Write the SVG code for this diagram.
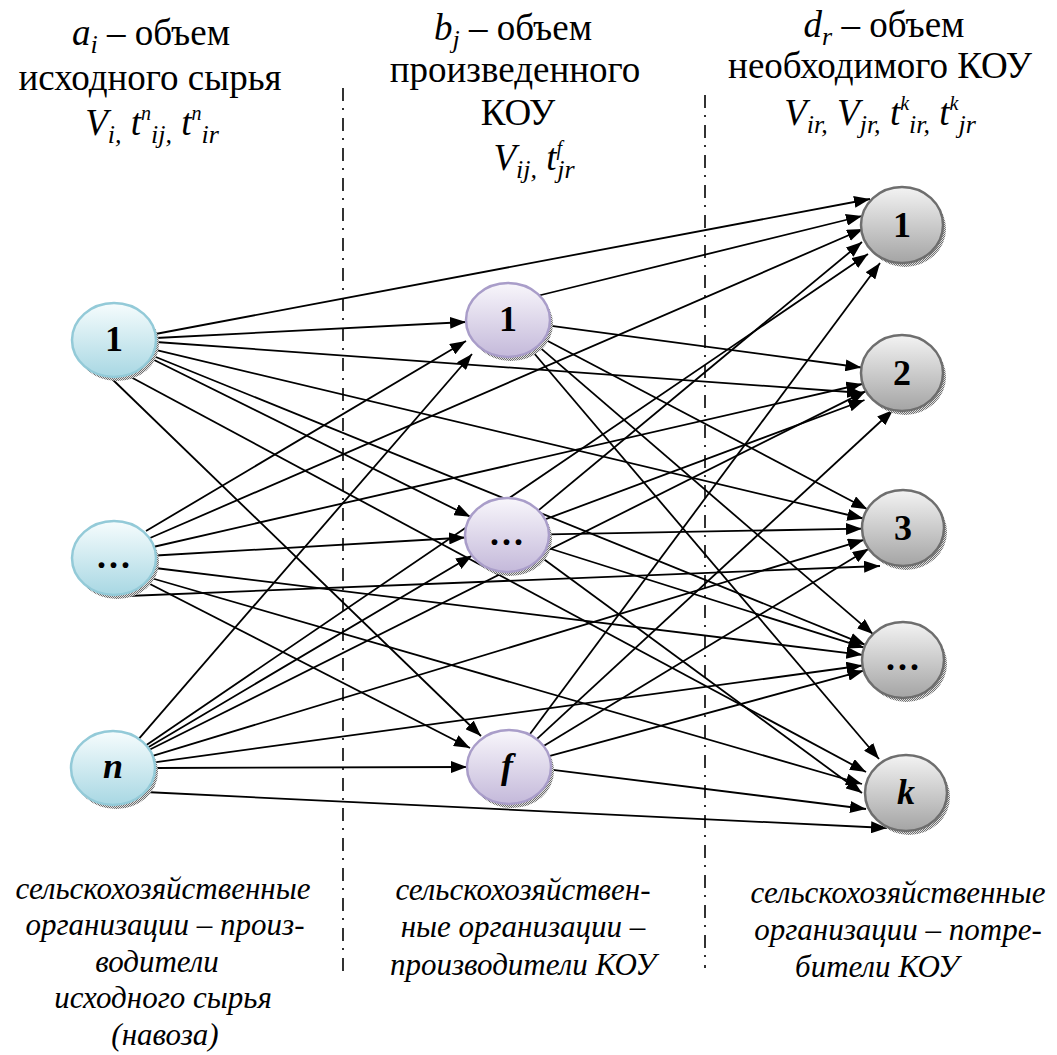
<svg xmlns="http://www.w3.org/2000/svg" width="1057" height="1055" viewBox="0 0 1057 1055">
<style>
.h{font-size:37px;fill:#000;text-anchor:middle}
.it{font-style:italic}
.sb{font-size:26px;font-style:italic}
.sp{font-size:20px;font-style:italic}
.b{font-size:31px;font-style:italic;fill:#000;text-anchor:middle}
.lab{font-size:36px;font-weight:bold;fill:#000;text-anchor:middle}
.dots{letter-spacing:3px}
.sep{stroke:#000;stroke-width:1.6;stroke-dasharray:13 7 2 8;fill:none}
.e line{stroke:#000;stroke-width:1.8;marker-end:url(#ah)}
.sh{fill:url(#dots)}
.nl{fill:url(#gl);stroke:#93cad8;stroke-width:2.5}
.nm{fill:url(#gm);stroke:#a99dc9;stroke-width:2.5}
.nr{fill:url(#gr);stroke:#6e6e6e;stroke-width:2.5}
</style>
<defs>
<marker id="ah" markerUnits="userSpaceOnUse" markerWidth="17" markerHeight="12" refX="16" refY="6" orient="auto">
<path d="M0,0 L16,6 L0,12 z" fill="#000"/>
</marker>
<pattern id="dots" width="2" height="2" patternUnits="userSpaceOnUse">
<rect width="2" height="2" fill="#e0e0e0"/>
<rect width="1" height="1" fill="#6f6f6f"/>
<rect x="1" y="1" width="1" height="1" fill="#6f6f6f"/>
</pattern>
<linearGradient id="gl" x1="0" y1="0" x2="0" y2="1">
<stop offset="0" stop-color="#f6fcfd"/><stop offset="1" stop-color="#a8d7e3"/>
</linearGradient>
<linearGradient id="gm" x1="0" y1="0" x2="0" y2="1">
<stop offset="0" stop-color="#f8f6fb"/><stop offset="1" stop-color="#c4b9da"/>
</linearGradient>
<linearGradient id="gr" x1="0" y1="0" x2="0" y2="1">
<stop offset="0" stop-color="#f3f3f3"/><stop offset="1" stop-color="#a4a4a4"/>
</linearGradient>
</defs>
<rect width="1057" height="1055" fill="#fff"/>

<g id="headers">
<text class="h" font-family="Liberation Serif" x="151" y="45"><tspan class="it">a</tspan><tspan class="sb" dy="8">i</tspan><tspan dy="-8"> – объем</tspan></text>
<text class="h" font-family="Liberation Serif" x="150" y="90">исходного сырья</text>
<text class="h" font-family="Liberation Serif" x="152" y="135"><tspan class="it">V</tspan><tspan class="sb" dy="8">i,</tspan><tspan class="it" dy="-8"> t</tspan><tspan class="sp" dy="-15">п</tspan><tspan class="sb" dy="23">ij,</tspan><tspan class="it" dy="-8"> t</tspan><tspan class="sp" dy="-15">п</tspan><tspan class="sb" dy="23">ir</tspan></text>
<text class="h" font-family="Liberation Serif" x="513" y="40"><tspan class="it">b</tspan><tspan class="sb" dy="8">j</tspan><tspan dy="-8"> – объем</tspan></text>
<text class="h" font-family="Liberation Serif" x="515" y="82">произведенного</text>
<text class="h" font-family="Liberation Serif" x="518" y="125">КОУ</text>
<text class="h" font-family="Liberation Serif" x="534" y="170"><tspan class="it">V</tspan><tspan class="sb" dy="8">ij,</tspan><tspan class="it" dy="-8"> t</tspan><tspan class="sp" dy="-15">f</tspan><tspan class="sb" dx="-5" dy="23">jr</tspan></text>
<text class="h" font-family="Liberation Serif" x="884" y="37"><tspan class="it">d</tspan><tspan class="sb" dy="8">r</tspan><tspan dy="-8"> – объем</tspan></text>
<text class="h" font-family="Liberation Serif" x="880" y="78">необходимого КОУ</text>
<text class="h" font-family="Liberation Serif" x="880" y="125"><tspan class="it">V</tspan><tspan class="sb" dy="8">ir,</tspan><tspan class="it" dy="-8"> V</tspan><tspan class="sb" dy="8">jr,</tspan><tspan class="it" dy="-8"> t</tspan><tspan class="sp" dy="-15">k</tspan><tspan class="sb" dy="23">ir,</tspan><tspan class="it" dy="-8"> t</tspan><tspan class="sp" dy="-15">k</tspan><tspan class="sb" dy="23">jr</tspan></text>
</g>

<g id="separators">
<line class="sep" x1="343" y1="88" x2="343" y2="972"/>
<line class="sep" x1="705" y1="95" x2="705" y2="968"/>
</g>

<g id="connectors" class="e">
<line x1="156" y1="338" x2="466" y2="322"/>
<line x1="150.6" y1="358.2" x2="470.4" y2="516.8"/>
<line x1="110" y1="377" x2="481" y2="736"/>
<line x1="146" y1="531" x2="466" y2="341"/>
<line x1="155.9" y1="555.5" x2="465.1" y2="537.5"/>
<line x1="148" y1="583" x2="470" y2="748"/>
<line x1="138.8" y1="738.8" x2="472" y2="354"/>
<line x1="147.9" y1="747.4" x2="472.1" y2="555.6"/>
<line x1="155" y1="768" x2="467" y2="767"/>

<line x1="155.4" y1="334" x2="870" y2="199"/>
<line x1="156" y1="342" x2="863" y2="393"/>
<line x1="154.5" y1="349.7" x2="863.3" y2="518.5"/>
<line x1="152.1" y1="355.5" x2="865.4" y2="644.8"/>
<line x1="127" y1="375" x2="866" y2="772"/>

<line x1="150" y1="538" x2="863" y2="229"/>
<line x1="153" y1="547" x2="862.3" y2="384"/>
<line x1="127" y1="596" x2="880" y2="566"/>
<line x1="155" y1="568" x2="862.4" y2="654.8"/>
<line x1="151" y1="578" x2="862" y2="784"/>

<line x1="146.1" y1="745.2" x2="868" y2="254"/>
<line x1="149.5" y1="749.7" x2="865.9" y2="391.1"/>
<line x1="152.7" y1="755.9" x2="864" y2="539.8"/>
<line x1="154.5" y1="762.3" x2="862.4" y2="665.5"/>
<line x1="145" y1="792" x2="887" y2="828"/>

<line x1="537" y1="296" x2="862" y2="216"/>
<line x1="549.5" y1="325.6" x2="861.4" y2="367.5"/>
<line x1="544" y1="339" x2="867.4" y2="509.2"/>
<line x1="538" y1="345.9" x2="873" y2="634.1"/>
<line x1="533" y1="352" x2="879" y2="759"/>

<line x1="538.4" y1="510.4" x2="862" y2="242"/>
<line x1="545.1" y1="519.4" x2="864.5" y2="400"/>
<line x1="549" y1="534.3" x2="862" y2="528.7"/>
<line x1="546.5" y1="547.5" x2="864.2" y2="647.7"/>
<line x1="540.9" y1="556.9" x2="862" y2="793"/>

<line x1="530" y1="734" x2="880" y2="263"/>
<line x1="536.7" y1="739.2" x2="893" y2="410"/>
<line x1="543.6" y1="746" x2="868.7" y2="548.8"/>
<line x1="549.1" y1="756.1" x2="863.6" y2="670.7"/>
<line x1="550.9" y1="769.7" x2="866" y2="809"/>
</g>

<g id="node-L1"><ellipse class="sh" cx="117" cy="344" rx="42" ry="37"/><ellipse class="nl" cx="114" cy="340" rx="42" ry="37"/><text class="lab" font-family="Liberation Serif" x="114" y="351">1</text></g>
<g id="node-L2"><ellipse class="sh" cx="117" cy="562" rx="42" ry="37"/><ellipse class="nl" cx="114" cy="558" rx="42" ry="37"/><text class="lab dots" font-family="Liberation Serif" x="115" y="568">...</text></g>
<g id="node-Ln"><ellipse class="sh" cx="116" cy="772" rx="42" ry="37"/><ellipse class="nl" cx="113" cy="768" rx="42" ry="37"/><text class="lab it" font-family="Liberation Serif" x="113" y="778">n</text></g>

<g id="node-M1"><ellipse class="sh" cx="511" cy="324" rx="42" ry="37"/><ellipse class="nm" cx="508" cy="320" rx="42" ry="37"/><text class="lab" font-family="Liberation Serif" x="508" y="331">1</text></g>
<g id="node-M2"><ellipse class="sh" cx="510" cy="539" rx="42" ry="37"/><ellipse class="nm" cx="507" cy="535" rx="42" ry="37"/><text class="lab dots" font-family="Liberation Serif" x="508" y="545">...</text></g>
<g id="node-Mf"><ellipse class="sh" cx="512" cy="771" rx="42" ry="37"/><ellipse class="nm" cx="509" cy="767" rx="42" ry="37"/><text class="lab it" font-family="Liberation Serif" x="507" y="778">f</text></g>

<g id="node-R1"><ellipse class="sh" cx="905" cy="229" rx="41" ry="38"/><ellipse class="nr" cx="902" cy="225" rx="41" ry="38"/><text class="lab" font-family="Liberation Serif" x="902" y="237">1</text></g>
<g id="node-R2"><ellipse class="sh" cx="905" cy="377" rx="41" ry="38"/><ellipse class="nr" cx="902" cy="373" rx="41" ry="38"/><text class="lab" font-family="Liberation Serif" x="902" y="385">2</text></g>
<g id="node-R3"><ellipse class="sh" cx="906" cy="532" rx="41" ry="38"/><ellipse class="nr" cx="903" cy="528" rx="41" ry="38"/><text class="lab" font-family="Liberation Serif" x="903" y="540">3</text></g>
<g id="node-R4"><ellipse class="sh" cx="906" cy="664" rx="41" ry="38"/><ellipse class="nr" cx="903" cy="660" rx="41" ry="38"/><text class="lab dots" font-family="Liberation Serif" x="904" y="670">...</text></g>
<g id="node-Rk"><ellipse class="sh" cx="909" cy="797" rx="41" ry="38"/><ellipse class="nr" cx="906" cy="793" rx="41" ry="38"/><text class="lab it" font-family="Liberation Serif" x="906" y="804">k</text></g>

<g id="footers">
<text class="b" font-family="Liberation Serif" x="163" y="899">сельскохозяйственные</text>
<text class="b" font-family="Liberation Serif" x="165" y="935">организации – произ-</text>
<text class="b" font-family="Liberation Serif" x="157" y="972">водители</text>
<text class="b" font-family="Liberation Serif" x="163" y="1008">исходного сырья</text>
<text class="b" font-family="Liberation Serif" x="165" y="1045">(навоза)</text>
<text class="b" font-family="Liberation Serif" x="523" y="900">сельскохозяйствен-</text>
<text class="b" font-family="Liberation Serif" x="523" y="937">ные организации –</text>
<text class="b" font-family="Liberation Serif" x="523" y="975">производители КОУ</text>
<text class="b" font-family="Liberation Serif" x="898" y="903">сельскохозяйственные</text>
<text class="b" font-family="Liberation Serif" x="898" y="940">организации – потре-</text>
<text class="b" font-family="Liberation Serif" x="877" y="977">бители КОУ</text>
</g>
</svg>
